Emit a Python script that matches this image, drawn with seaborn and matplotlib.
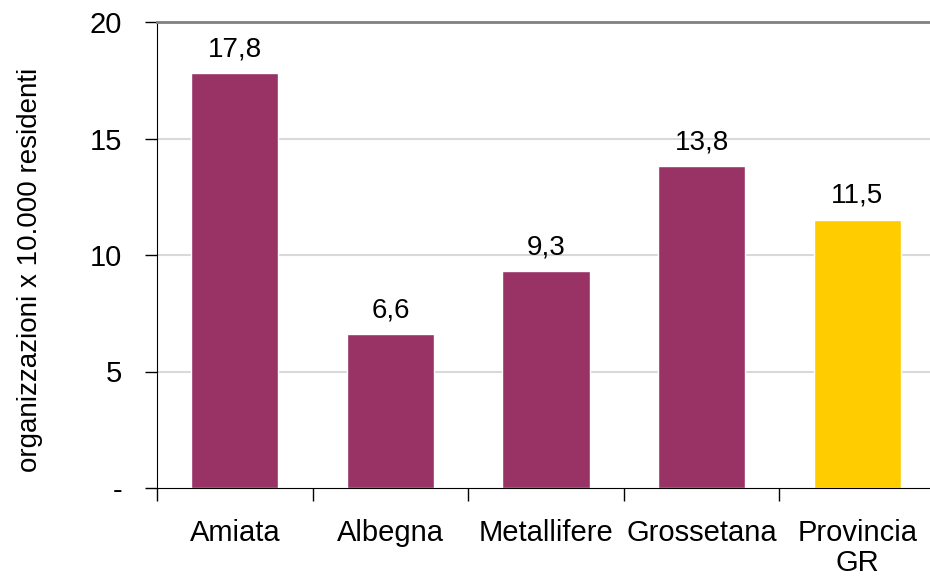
import matplotlib
matplotlib.use("Agg")
import matplotlib.pyplot as plt
import seaborn as sns
import pandas as pd

# dati: organizzazioni ogni 10.000 residenti per zona
zone = ["Amiata", "Albegna", "Metallifere", "Grossetana", "Provincia\nGR"]
valori = [17.8, 6.6, 9.3, 13.8, 11.5]
colori = ["#993366", "#993366", "#993366", "#993366", "#FFCC00"]
yticks = [0, 5, 10, 15, 20]
ytick_labels = ["-", "5", "10", "15", "20"]

sns.set_style("white")
plt.rcParams["font.family"] = ["Liberation Sans", "DejaVu Sans"]
plt.rcParams["text.color"] = "black"
plt.rcParams["axes.labelcolor"] = "black"
plt.rcParams["xtick.color"] = "black"
plt.rcParams["ytick.color"] = "black"

df = pd.DataFrame({"zona": zone, "valore": valori})

fig = plt.figure(figsize=(9.3, 5.76), dpi=100)
ax = fig.add_axes([157 / 930, 88 / 576, 778 / 930, 466 / 576])

sns.barplot(data=df, x="zona", y="valore", hue="zona", palette=colori,
            width=0.56, legend=False, ax=ax, saturation=1)

for cont in ax.containers:
    ax.bar_label(cont, labels=[f"{v:.1f}".replace(".", ",") for v in cont.datavalues],
                 padding=8, fontsize=20, color="black")

ax.set_ylim(0, 20)
ax.set_xlim(-0.5, 4.5)
ax.set_yticks(yticks)
ax.set_yticklabels(ytick_labels, fontsize=21)
ax.set_xticks([i - 0.5 for i in range(5)], minor=False)
ax.set_xticklabels([])
ax.set_xticks(range(5), minor=True)
ax.set_xticklabels(zone, minor=True, fontsize=21, linespacing=1.12)
ax.tick_params(axis="x", which="minor", bottom=True, length=0, pad=22)
ax.tick_params(axis="x", which="major", bottom=True, length=9, width=1,
               direction="out", color="black")
ax.tick_params(axis="y", left=True, length=9, width=1, direction="out",
               color="black", pad=16)

for y in [5, 10, 15]:
    ax.axhline(y, color="#d9d9d9", lw=1.5, zorder=0)
ax.set_axisbelow(True)

ax.spines["top"].set_color("#808080")
ax.spines["top"].set_linewidth(2)
ax.spines["right"].set_visible(False)
ax.spines["left"].set_color("black")
ax.spines["bottom"].set_color("black")

ax.set_xlabel("")
ax.set_ylabel("")
fig.text(30 / 930, 1 - 270 / 576, "organizzazioni x 10.000 residenti",
         rotation=90, ha="center", va="center", fontsize=20)

fig.savefig("out.png", dpi=100)
